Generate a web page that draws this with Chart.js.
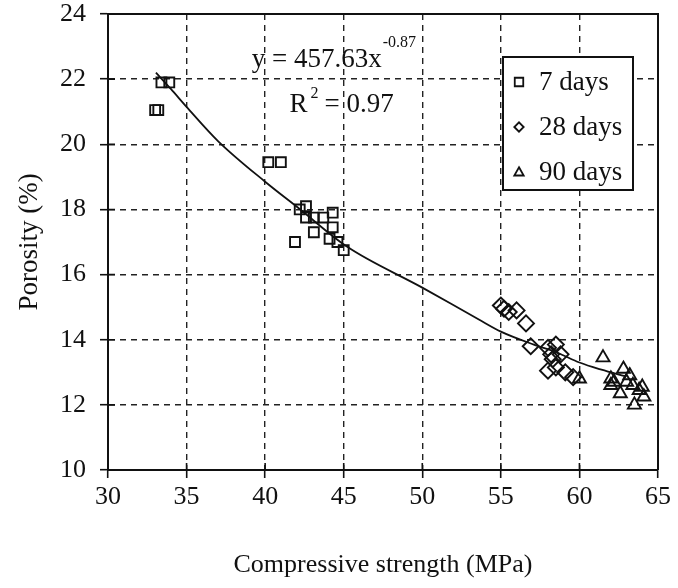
<!DOCTYPE html>
<html lang="en">
<head>
    <meta charset="UTF-8">
    <title>Porosity vs Compressive Strength</title>
    <script src="https://cdn.jsdelivr.net/npm/chart.js"></script>
    <style>
        html, body { margin: 0; padding: 0; background: #fff; }
        #chartWrap { width: 678px; height: 588px; }
    </style>
</head>
<body>
<div id="chartWrap"><canvas id="porosityChart" width="678" height="588"></canvas></div>
<script>
    // 7 days (squares)
    const days7Strength = [33.0, 33.2, 33.4, 33.9, 40.2, 41.0, 41.9, 42.2, 42.6, 42.6, 43.1, 43.1, 43.7, 44.1, 44.3, 44.3, 44.6, 45.0];
    const days7Porosity = [21.05, 21.05, 21.9, 21.9, 19.45, 19.45, 17.0, 18.0, 18.1, 17.75, 17.75, 17.3, 17.75, 17.1, 17.9, 17.45, 17.0, 16.75];

    // 28 days (diamonds)
    const days28Strength = [55.0, 55.2, 55.5, 56.0, 56.6, 56.9, 58.0, 58.2, 58.3, 58.5, 58.5, 58.8, 58.0, 59.1, 59.6];
    const days28Porosity = [15.05, 14.95, 14.85, 14.9, 14.5, 13.8, 13.75, 13.55, 13.4, 13.85, 13.15, 13.55, 13.05, 13.0, 12.85];

    // 90 days (triangles)
    const days90Strength = [60.0, 61.5, 62.0, 62.0, 62.2, 62.6, 62.8, 63.0, 63.2, 63.4, 63.5, 63.8, 64.0, 64.1];
    const days90Porosity = [12.8, 13.45, 12.8, 12.6, 12.7, 12.35, 13.1, 12.7, 12.9, 12.6, 12.0, 12.45, 12.55, 12.25];

    // power trend line as drawn in the figure
    const fitStrength = [33.05, 34.0, 35.0, 37.0, 40.0, 42.1, 45.2, 50.0, 53.6, 55.0, 57.1, 58.6, 60.0, 61.4, 62.9];
    const fitPorosity = [22.2, 21.7, 21.15, 20.1, 18.85, 18.05, 16.86, 15.6, 14.62, 14.25, 13.85, 13.6, 13.3, 13.08, 12.88];

    // axes
    const xRange = [30, 65];
    const xStep = 5;
    const yRange = [10, 24];
    const yStep = 2;

    const seriesLabels = ['7 days', '28 days', '90 days'];
    const seriesStyles = ['rect', 'rectRot', 'triangle'];

    const FONT = '"Liberation Serif", "Times New Roman", serif';
    const INK = '#111';

    const toPoints = (xs, ys) => xs.map((x, i) => ({ x: x, y: ys[i] }));

    function drawMarker(ctx, style, x, y, r) {
        ctx.beginPath();
        if (style === 'rect') {
            const s = r * Math.SQRT1_2;
            ctx.rect(x - s, y - s, 2 * s, 2 * s);
        } else if (style === 'rectRot') {
            const s = r * Math.SQRT1_2 * 1.1;
            ctx.moveTo(x - s, y);
            ctx.lineTo(x, y + s);
            ctx.lineTo(x + s, y);
            ctx.lineTo(x, y - s);
            ctx.closePath();
        } else {
            const h = r * 1.3;
            ctx.moveTo(x, y - h * 0.6);
            ctx.lineTo(x + h * 0.6, y + h * 0.45);
            ctx.lineTo(x - h * 0.6, y + h * 0.45);
            ctx.closePath();
        }
        ctx.stroke();
    }

    // top/right frame and tick marks that cross the axes
    const frameOnly = {
        id: 'frame',
        afterDraw(chart) {
            const { ctx, chartArea: a, scales: { x, y } } = chart;
            ctx.save();
            ctx.strokeStyle = INK;
            ctx.lineWidth = 2;
            ctx.beginPath();
            ctx.moveTo(a.left, a.top);
            ctx.lineTo(a.right, a.top);
            ctx.lineTo(a.right, a.bottom);
            ctx.stroke();
            ctx.lineWidth = 1.6;
            ctx.beginPath();
            x.ticks.forEach(t => {
                const px = x.getPixelForValue(t.value);
                ctx.moveTo(px, a.bottom);
                ctx.lineTo(px, a.bottom - 7);
            });
            y.ticks.forEach(t => {
                const py = y.getPixelForValue(t.value);
                ctx.moveTo(a.left, py);
                ctx.lineTo(a.left + 7, py);
            });
            ctx.stroke();
            ctx.restore();
        }
    };

    // equation text and boxed legend
    const eqPlugin = {
        id: 'eq',
        afterDraw(chart) {
            const { ctx, chartArea: a, scales: { x, y } } = chart;
            ctx.save();
            ctx.fillStyle = INK;
            ctx.textBaseline = 'alphabetic';
            ctx.textAlign = 'left';
            const ex = x.getPixelForValue(39.15);
            const ey = y.getPixelForValue(22.37);
            ctx.font = '27px ' + FONT;
            const w = ctx.measureText('y = 457.63x').width;
            ctx.fillText('y = 457.63x', ex, ey);
            ctx.font = '16px ' + FONT;
            ctx.fillText('-0.87', ex + w + 1, ey - 20);

            const rx = x.getPixelForValue(41.55);
            const ry = y.getPixelForValue(21.0);
            ctx.font = '27px ' + FONT;
            const rw = ctx.measureText('R').width;
            ctx.fillText('R', rx, ry);
            ctx.font = '16px ' + FONT;
            ctx.fillText('2', rx + rw + 3, ry - 14);
            ctx.font = '27px ' + FONT;
            ctx.fillText('= 0.97', rx + rw + 17, ry);

            // legend box
            const bw = 130, bh = 133;
            const bx = a.right - 25 - bw;
            const by = a.top + 43;
            ctx.fillStyle = '#fff';
            ctx.fillRect(bx, by, bw, bh);
            ctx.strokeStyle = INK;
            ctx.lineWidth = 2;
            ctx.strokeRect(bx, by, bw, bh);
            ctx.fillStyle = INK;
            ctx.textBaseline = 'middle';
            ctx.font = '27px ' + FONT;
            seriesLabels.forEach((lab, i) => {
                const cy = by + 25 + i * 45;
                ctx.lineWidth = 1.8;
                drawMarker(ctx, seriesStyles[i], bx + 16, cy, 6);
                ctx.fillText(lab, bx + 36, cy + 1);
            });
            ctx.restore();
        }
    };

    const markerDataset = (label, xs, ys, style, radius) => ({
        label: label,
        data: toPoints(xs, ys),
        pointStyle: style,
        pointRadius: radius,
        pointBorderWidth: 1.9,
        pointBorderColor: INK,
        pointBackgroundColor: 'rgba(255,255,255,0)',
        showLine: false
    });

    const axisCommon = {
        grid: {
            color: '#222',
            lineWidth: 1.4,
            tickLength: 8,
            tickColor: INK,
            tickWidth: 1.6
        },
        border: { display: true, color: INK, width: 2, dash: [6, 5] },
        ticks: {
            color: INK,
            font: { family: FONT, size: 26 }
        }
    };

    new Chart(document.getElementById('porosityChart'), {
        type: 'scatter',
        data: {
            datasets: [
                {
                    label: 'fit',
                    data: toPoints(fitStrength, fitPorosity),
                    showLine: true,
                    borderColor: INK,
                    borderWidth: 1.8,
                    pointRadius: 0,
                    tension: 0.4,
                    cubicInterpolationMode: 'monotone',
                    fill: false
                },
                markerDataset(seriesLabels[0], days7Strength, days7Porosity, seriesStyles[0], 7),
                markerDataset(seriesLabels[1], days28Strength, days28Porosity, seriesStyles[1], 8),
                markerDataset(seriesLabels[2], days90Strength, days90Porosity, seriesStyles[2], 7.5)
            ]
        },
        options: {
            responsive: false,
            animation: false,
            layout: { padding: { top: 14, right: 20, left: 0, bottom: 0 } },
            plugins: {
                legend: { display: false },
                tooltip: { enabled: false }
            },
            scales: {
                x: {
                    type: 'linear',
                    min: xRange[0],
                    max: xRange[1],
                    grid: axisCommon.grid,
                    border: axisCommon.border,
                    ticks: Object.assign({}, axisCommon.ticks, { stepSize: xStep, padding: 4, maxRotation: 0 }),
                    title: {
                        display: true,
                        text: 'Compressive strength (MPa)',
                        color: INK,
                        font: { family: FONT, size: 26 },
                        padding: { top: 0, bottom: 7 }
                    },
                    afterFit: scale => {
                        scale.height = 118;
                        scale.paddingLeft = 0;
                        scale.paddingRight = 0;
                    }
                },
                y: {
                    type: 'linear',
                    min: yRange[0],
                    max: yRange[1],
                    grid: axisCommon.grid,
                    border: axisCommon.border,
                    ticks: Object.assign({}, axisCommon.ticks, { stepSize: yStep, padding: 14 }),
                    title: {
                        display: true,
                        text: 'Porosity (%)',
                        color: INK,
                        font: { family: FONT, size: 27 },
                        padding: { top: 14, bottom: 0 }
                    },
                    afterFit: scale => {
                        scale.width = 108;
                        scale.paddingTop = 0;
                        scale.paddingBottom = 0;
                    }
                }
            }
        },
        plugins: [frameOnly, eqPlugin]
    });
</script>
</body>
</html>
